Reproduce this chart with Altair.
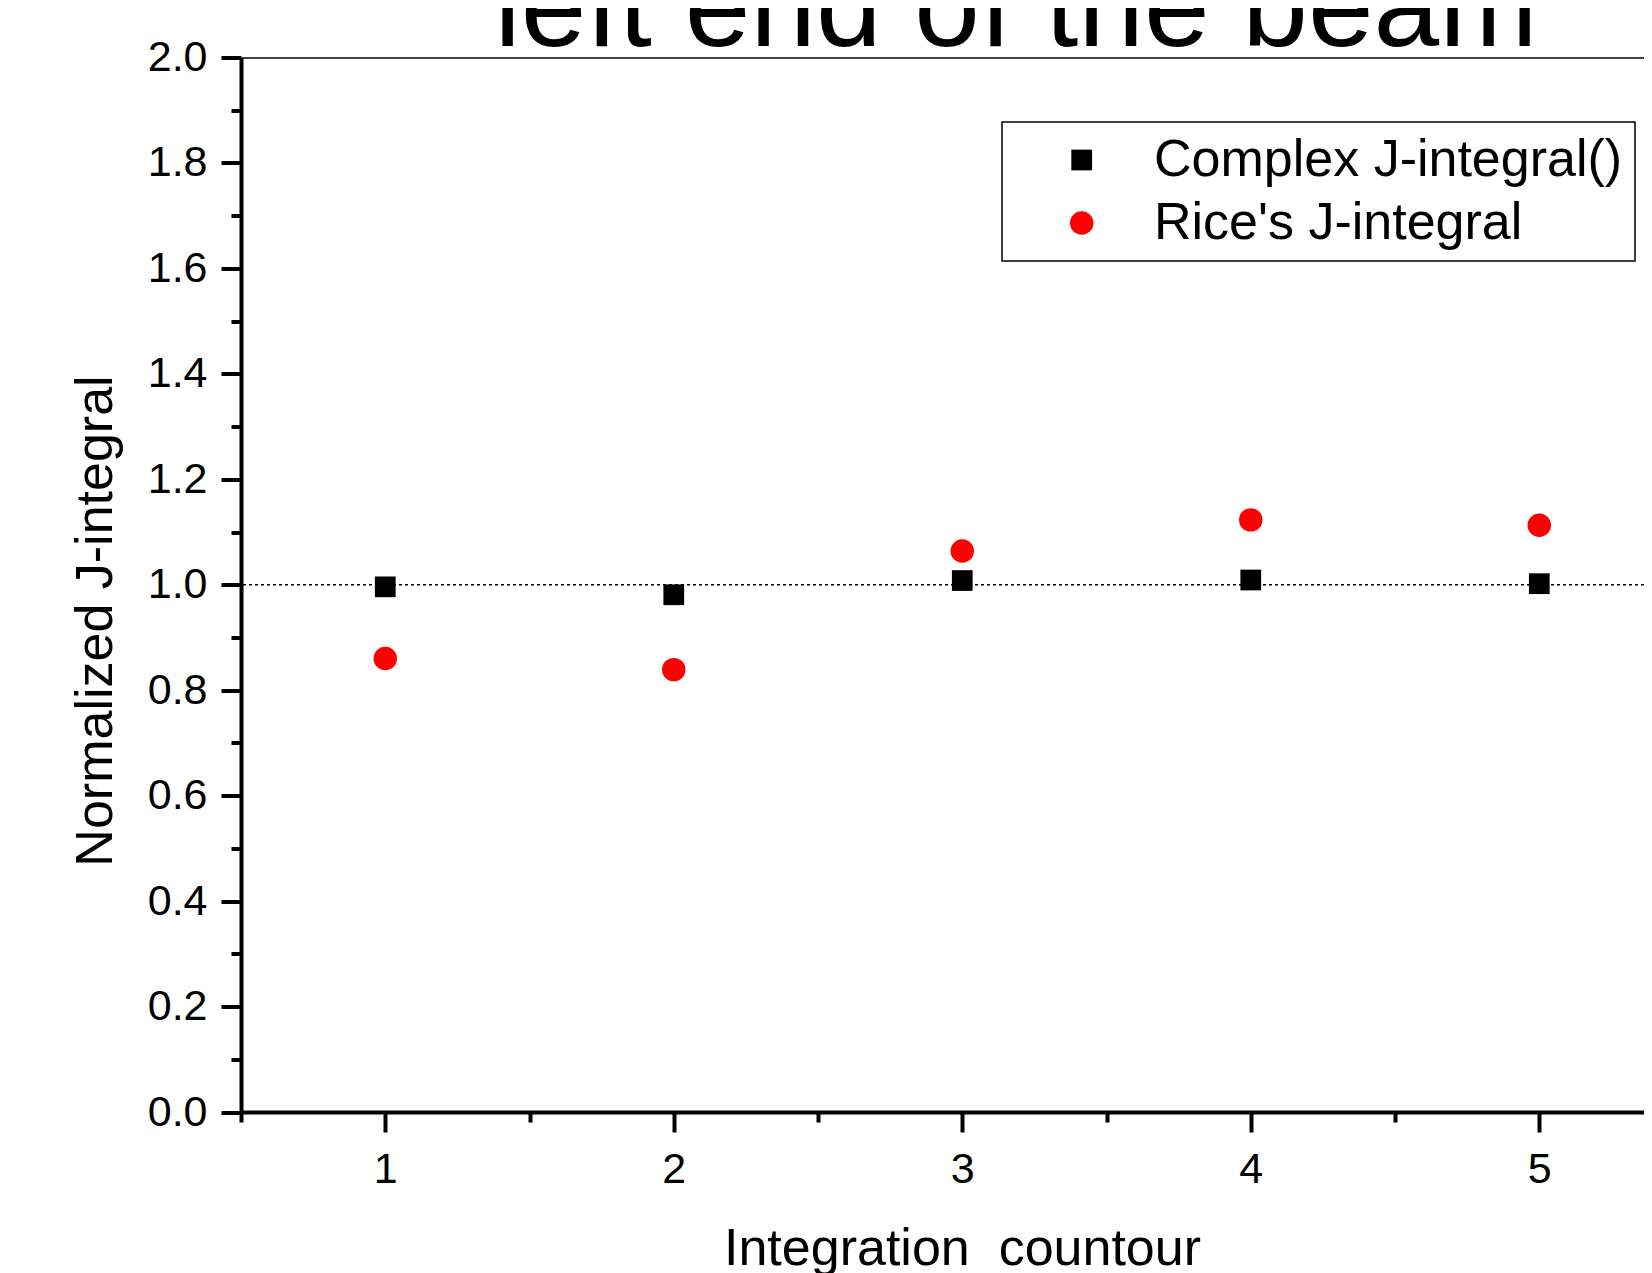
import altair as alt
import pandas as pd

# ---- data ----
contours = [1, 2, 3, 4, 5]
complex_j = [0.996, 0.981, 1.008, 1.009, 1.002]
rice_j = [0.860, 0.839, 1.064, 1.123, 1.113]
series_names = ["Complex J-integral()", "Rice's J-integral"]
series_colors = ["#000000", "#ff0000"]
series_shapes = ["square", "circle"]
series_sizes = [430, 550]
ref_value = [1.0]
x_ticks = [0.5, 1, 1.5, 2, 2.5, 3, 3.5, 4, 4.5, 5]
y_ticks = [0.0, 0.1, 0.2, 0.3, 0.4, 0.5, 0.6, 0.7, 0.8, 0.9, 1.0,
           1.1, 1.2, 1.3, 1.4, 1.5, 1.6, 1.7, 1.8, 1.9, 2.0]
x_domain = [0.5, 5.363]
y_domain = [0.0, 2.0]

title_text = "left end of the beam"
x_title = "Integration\u00a0 countour"
y_title = "Normalized J-integral"

FONT = "Liberation Sans"

df = pd.DataFrame({
    "contour": contours + contours,
    "value": complex_j + rice_j,
    "series": [series_names[0]] * len(contours) + [series_names[1]] * len(contours),
})
ref = pd.DataFrame({"value": ref_value})

x_scale = alt.Scale(domain=x_domain, nice=False, zero=False)
y_scale = alt.Scale(domain=y_domain, nice=False)

x_axis = alt.Axis(
    orient="bottom",
    values=x_ticks,
    labelExpr="datum.value % 1 == 0 ? format(datum.value, 'd') : ''",
    tickSize={"condition": {"test": "datum.value % 1 == 0", "value": 20}, "value": 10},
    tickWidth=4, domainWidth=4, domainColor="black", tickColor="black",
    labelFontSize=43, labelPadding=16, labelFlush=False, labelOverlap=False,
    title=x_title, titleFontSize=52, titleX=721, titleY=152,
    titleBaseline="alphabetic", titleAlign="center",
    grid=False,
)
y_axis = alt.Axis(
    orient="left",
    values=y_ticks,
    labelExpr="round(datum.value * 10) % 2 == 0 ? format(datum.value, '.1f') : ''",
    tickSize={"condition": {"test": "round(datum.value * 10) % 2 == 0", "value": 20}, "value": 10},
    tickWidth=4, domainWidth=4, domainColor="black", tickColor="black",
    labelFontSize=43, labelPadding=14, labelFlush=False, labelOverlap=False,
    title=y_title, titleFontSize=52, titleX=-130, titleY=563, titleAngle=270,
    titleBaseline="alphabetic", titleAlign="center",
    grid=False,
)
top_axis = alt.Axis(orient="top", ticks=False, labels=False, title="",
                    domainWidth=1.5, domainColor="black", grid=False)

legend = alt.Legend(
    title=None, orient="none", legendX=761, legendY=64.5,
    padding=12, strokeColor="black",
    labelFontSize=52, labelFont=FONT, labelColor="black", labelLimit=0,
    symbolOffset=41.7, labelOffset=46.3, rowPadding=11, symbolStrokeWidth=0,
)

rule = alt.Chart(ref).mark_rule(color="black", strokeWidth=1.5, strokeDash=[3, 3]).encode(
    y=alt.Y("value:Q", scale=y_scale, axis=y_axis)
)

points = alt.Chart(df).mark_point(filled=True, opacity=1).encode(
    x=alt.X("contour:Q", scale=x_scale, axis=x_axis),
    y=alt.Y("value:Q", scale=y_scale, axis=y_axis),
    color=alt.Color("series:N", scale=alt.Scale(domain=series_names, range=series_colors), legend=legend),
    shape=alt.Shape("series:N", scale=alt.Scale(domain=series_names, range=series_shapes), legend=legend),
    size=alt.Size("series:N", scale=alt.Scale(domain=series_names, range=series_sizes), legend=legend),
)

frame = alt.Chart(df).mark_point(opacity=0).encode(
    x=alt.X("contour:Q", scale=x_scale, axis=top_axis)
)

chart = alt.layer(rule, points, frame).resolve_axis(x="independent").properties(
    width=1403,
    height=1054.5,
    padding={"left": 233, "top": 49.5, "right": 0, "bottom": 164},
    autosize=alt.AutoSizeParams(type="none"),
    title=alt.TitleParams(
        title_text, fontSize=118, font=FONT, fontWeight="normal", color="black",
        orient="none", anchor="middle", align="center", baseline="alphabetic",
        offset=0, dx=775, dy=-12, limit=0,
    ),
).configure_view(strokeWidth=0).configure_axis(
    labelFont=FONT, titleFont=FONT, labelColor="black", titleColor="black",
    titleFontWeight="normal",
).configure_legend(strokeWidth=1.5)

chart.save("out.html", embed_options={"renderer": "svg", "actions": False})
